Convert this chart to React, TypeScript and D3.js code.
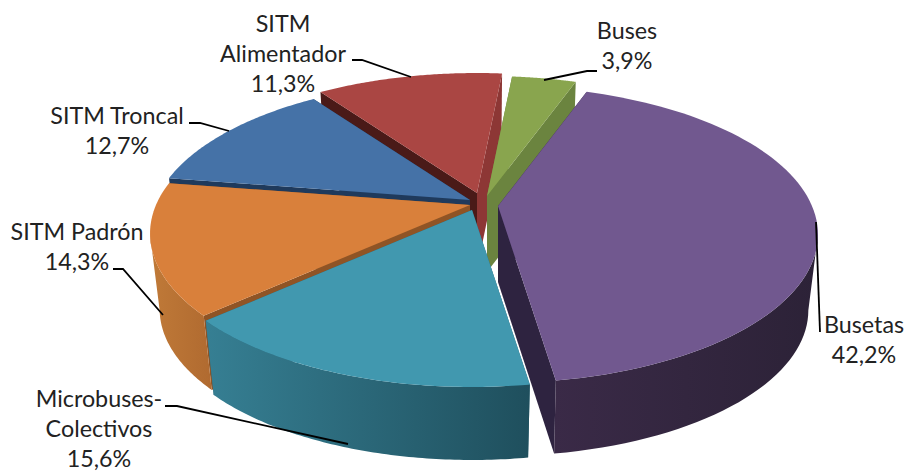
import React from "react";
import * as d3 from "d3";

const categories = ["Busetas", "Microbuses-Colectivos", "SITM Padrón", "SITM Troncal", "SITM Alimentador", "Buses"];
const values = [42.2, 15.6, 14.3, 12.7, 11.3, 3.9];
const topColors = ["#71588f", "#4198af", "#d9803b", "#4572a7", "#aa4643", "#89a54e"];
const startFace = ["#2e2340", "#2b6475", "#8f5425", "#1f3a5c", "#4a1a18", "#6b843f"];
const endFace = ["#2e2340", "#2b6475", "#8f5425", "#1f3a5c", "#8d3735", "#6b843f"];
const wallLeft = ["#3a2a47", "#367f93", "#c07a38", "#3a5f8c", "#8d3735", "#6b843f"];
const wallRight = ["#2c2237", "#1f4f5d", "#b06a30", "#2f4f75", "#8d3735", "#6b843f"];
const labelLines = [["Busetas", "42,2%"], ["Microbuses-", "Colectivos", "15,6%"], ["SITM Padrón", "14,3%"], ["SITM Troncal", "12,7%"], ["SITM", "Alimentador", "11,3%"], ["Buses", "3,9%"]];

// layout
const apexes: [number, number][] = [[498, 206], [472, 210], [470, 205], [470, 200], [477, 193], [487, 196]];
const labelPos: [number, number][] = [[864, 333], [99, 407], [77, 240], [117, 124], [283, 32], [627, 39]];
const leaders: [number, number][][] = [
  [[816, 222], [820, 332]],
  [[165, 406], [177, 406], [348, 444]],
  [[113, 269], [123, 269], [163, 315]],
  [[189, 123], [200, 123], [229, 131]],
  [[352, 60], [362, 60], [411, 77]],
  [[544, 80], [587, 71], [597, 71]],
];
const drawOrder = [4, 3, 2, 5, 1, 0];
const R = 314, A = 143, K = 0.192, H = 76, BOTTOM_Y = 0.983, LH = 30, BOTTOM_X = 0.97;
const firstAngle = (19.5 * Math.PI) / 180;

const arcs = d3.pie<number>().sort(null).startAngle(firstAngle).endAngle(firstAngle + 2 * Math.PI)(values);

function proj(a: number, r: number, apex: [number, number], down: boolean): [number, number] {
  const X = Math.sin(a) * r, Z = Math.cos(a) * r;
  const s = 1 / (1 + K * Z);
  const px = R * X * s, py = -A * Z * s;
  return down
    ? [apex[0] + px * BOTTOM_X, apex[1] + H + py * BOTTOM_Y]
    : [apex[0] + px, apex[1] + py];
}
const line = d3.line();

export default function App() {
  return (
    <svg width={906} height={472} style={{ position: "absolute", left: 0, top: 0, background: "#fff" }}>
      <defs>
        {categories.map((_, i) => (
          <linearGradient key={i} id={`w${i}`} x1="0" x2="1" y1="0" y2="0">
            <stop offset="0" stopColor={wallLeft[i]} />
            <stop offset="1" stopColor={wallRight[i]} />
          </linearGradient>
        ))}
      </defs>
      {drawOrder.map((i) => {
        const { startAngle: a0, endAngle: a1 } = arcs[i];
        const ap = apexes[i];
        const angles = d3.range(0, 81).map((k) => a0 + ((a1 - a0) * k) / 80);
        const front = angles.filter((a) => Math.cos(a) < -K);
        const top = angles.map((a) => proj(a, 1, ap, false));
        const last = top.length - 1;
        const c0 = proj(0, 0, ap, false), c1 = proj(0, 0, ap, true);
        const wall = front.length > 1
          ? line([...front.map((a) => proj(a, 1, ap, false)), ...front.slice().reverse().map((a) => proj(a, 1, ap, true))]) + "Z"
          : null;
        const f0 = line([c0, top[0], proj(angles[0], 1, ap, true), c1]) + "Z";
        const f1 = line([c0, top[last], proj(angles[last], 1, ap, true), c1]) + "Z";
        const t = line([c0, ...top]) + "Z";
        return (
          <g key={i}>
            <path d={f0} fill={startFace[i]} />
            <path d={f1} fill={endFace[i]} />
            {wall && <path d={wall} fill={`url(#w${i})`} />}
            <path d={t} fill={topColors[i]} />
          </g>
        );
      })}
      {leaders.map((l, i) => (
        <path key={i} d={line(l) ?? ""} fill="none" stroke="#000" strokeWidth={1.8} />
      ))}
      {labelLines.map((ls, i) => (
        <text key={i} fontFamily="Lato" fontSize={23.3} fill="#222" textAnchor="middle">
          {ls.map((s, j) => (
            <tspan key={j} x={labelPos[i][0]} y={labelPos[i][1] + j * LH}>{s}</tspan>
          ))}
        </text>
      ))}
    </svg>
  );
}
